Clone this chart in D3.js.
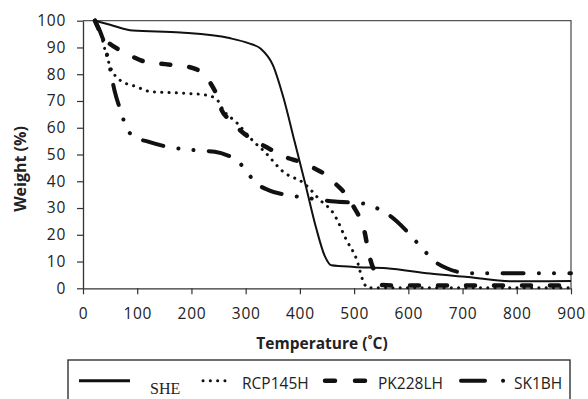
<!DOCTYPE html>
<html>
<head>
<meta charset="utf-8">
<script src="https://cdn.jsdelivr.net/npm/d3@7"></script>
<style>
  body { margin: 0; background: #fff; }
  svg { display: block; }
  .tick text { font-family: 'Open Sans', sans-serif; font-size: 15.5px; letter-spacing: 0.7px; fill: #222; }
  .axis_title { font-family: 'Open Sans', sans-serif; font-weight: bold; fill: #222; }
  .legend_text { font-family: 'Open Sans', sans-serif; font-size: 15.5px; fill: #222; }
</style>
</head>
<body>
<svg id="graph" width="588" height="399"></svg>
<script>
/*******************************************************************************************/
// Data: [temperature (°C), weight (%)]

var series_names = ['SHE', 'RCP145H', 'PK228LH', 'SK1BH'];

var she = [[22,100],[50,98.5],[92,96.3],[180,95.6],[270,93.5],[305,91.6],[328,89.5],[350,83.5],[370,71],
           [390,55],[410,39],[430,22.5],[446,12],[458,8.6],[500,8],[560,7.5],[640,5.5],[710,4.2],[790,2.6],[900,2.7]];

var rcp145h = [[22,100],[33,95],[42,88],[52,82],[68,77.8],[99,75.3],[124,73.5],[185,72.9],[228,72.2],[247,70.5],
               [259,66.5],[283,62],[314,55],[335,51],[369,43.6],[409,39],[437,33],[462,28],[486,18],[505,10.6],
               [517,2.5],[525,0.2],[600,0.2],[900,0.2]];

var pk228lh = [[22,100],[40,93],[50,91.3],[68,89],[92,86.5],[114,84.7],[142,84],[166,83.4],[194,82.8],[216,81],
               [234,77],[247,72],[256,66.5],[271,63],[293,58.5],[314,55.4],[336,53],[354,51],[379,48.6],[400,47.3],
               [425,45],[446,42.6],[468,38.6],[483,35.5],[499,30.5],[511,26],[520,20.5],[525,15],[532,9.3],[542,5],
               [552,1.2],[600,1],[900,1]];

var sk1bh = [[22,100],[40,91],[50,82],[58,74],[70,66],[80,60],[96,56.5],[120,54.8],[166,52.5],[191,51.9],
             [219,51.4],[243,51],[265,49.8],[286,47.5],[302,43.5],[320,39.2],[342,36.7],[388,34.5],[430,33.3],
             [465,32.4],[514,31.8],[535,30.5],[560,28],[579,25],[612,18],[631,13.7],[649,10],[671,7.5],[714,5.6],
             [760,5.6],[900,5.6]];

var x_ticks = [0, 100, 200, 300, 400, 500, 600, 700, 800, 900];
var y_ticks = [0, 10, 20, 30, 40, 50, 60, 70, 80, 90, 100];

/*******************************************************************************************/

var styles = [
  { data: she,     width: 2,   dash: null,                      cap: 'butt'  },
  { data: rcp145h, width: 3,   dash: '0.1 7.2',                 cap: 'round' },
  { data: pk228lh, width: 4.5, dash: '9 19',                    cap: 'round' },
  { data: sk1bh,   width: 4,   dash: '21 15.3 0.1 15 0.1 15.3', cap: 'round' }
];

var plot_left = 83, plot_right = 571, plot_top = 20.7, plot_bottom = 288.3;

var svg = d3.select('#graph');
var xScale = d3.scaleLinear().domain([0, 900]).range([plot_left, plot_right]);
var yScale = d3.scaleLinear().domain([0, 100]).range([plot_bottom, plot_top]);

var lineGen = d3.line().x(d => xScale(d[0])).y(d => yScale(d[1])).curve(d3.curveMonotoneX);

// plot area frame (top and right)
svg.append('path')
   .attr('d', 'M' + plot_left + ',' + plot_top + 'H' + plot_right + 'V' + plot_bottom)
   .attr('fill', 'none').attr('stroke', '#555').attr('stroke-width', 1.3);

var xAxis = svg.append('g').attr('transform', 'translate(0,' + plot_bottom + ')')
   .call(d3.axisBottom(xScale).tickValues(x_ticks).tickSize(6).tickSizeOuter(0).tickPadding(14));
var yAxis = svg.append('g').attr('transform', 'translate(' + plot_left + ',0)')
   .call(d3.axisLeft(yScale).tickValues(y_ticks).tickSize(6).tickSizeOuter(0).tickPadding(11));

[xAxis, yAxis].forEach(function(a){
  a.select('.domain').attr('stroke', '#333').attr('stroke-width', 1.3);
  a.selectAll('.tick line').attr('stroke', '#333').attr('stroke-width', 1.2);
});

svg.append('text').attr('class', 'axis_title').attr('x', 322).attr('y', 349)
   .attr('text-anchor', 'middle').style('font-size', '15.5px').text('Temperature (˚C)');
svg.append('text').attr('class', 'axis_title')
   .attr('transform', 'translate(26,169) rotate(-90)')
   .attr('text-anchor', 'middle').style('font-size', '16px').text('Weight (%)');

// curves
styles.forEach(function(s){
  svg.append('path').attr('d', lineGen(s.data))
     .attr('fill', 'none').attr('stroke', '#111')
     .attr('stroke-width', s.width)
     .attr('stroke-linecap', s.cap)
     .attr('stroke-linejoin', 'round')
     .attr('stroke-dasharray', s.dash);
});

/*******************************************************************************************/
// legend

var legend = svg.append('g');
legend.append('rect').attr('x', 68).attr('y', 360).attr('width', 502).attr('height', 60)
      .attr('fill', 'none').attr('stroke', '#222').attr('stroke-width', 1.3);

var legend_items = [
  { x1: 79,  x2: 130,   dash: null,            width: 3,   cap: 'butt',  tx: 150, ty: 394,   font: "'Liberation Serif', serif" },
  { x1: 203, x2: 232,   dash: '0.1 7.2',       width: 3,   cap: 'round', tx: 242, ty: 388.5, font: null },
  { x1: 325, x2: 365,   dash: '10 20',         width: 4.5, cap: 'round', tx: 378, ty: 388.5, font: null },
  { x1: 461, x2: 503.1, dash: '24 18 0.1 100', width: 4,   cap: 'round', tx: 514, ty: 388.5, font: null }
];

legend_items.forEach(function(d, i){
  legend.append('line').attr('x1', d.x1).attr('x2', d.x2).attr('y1', 380.7).attr('y2', 380.7)
        .attr('stroke', '#111').attr('stroke-width', d.width)
        .attr('stroke-linecap', d.cap).attr('stroke-dasharray', d.dash);
  var t = legend.append('text').attr('class', 'legend_text').attr('x', d.tx).attr('y', d.ty).text(series_names[i]);
  if (d.font) t.style('font-family', d.font).style('font-size', '16px');
});
</script>
</body>
</html>
